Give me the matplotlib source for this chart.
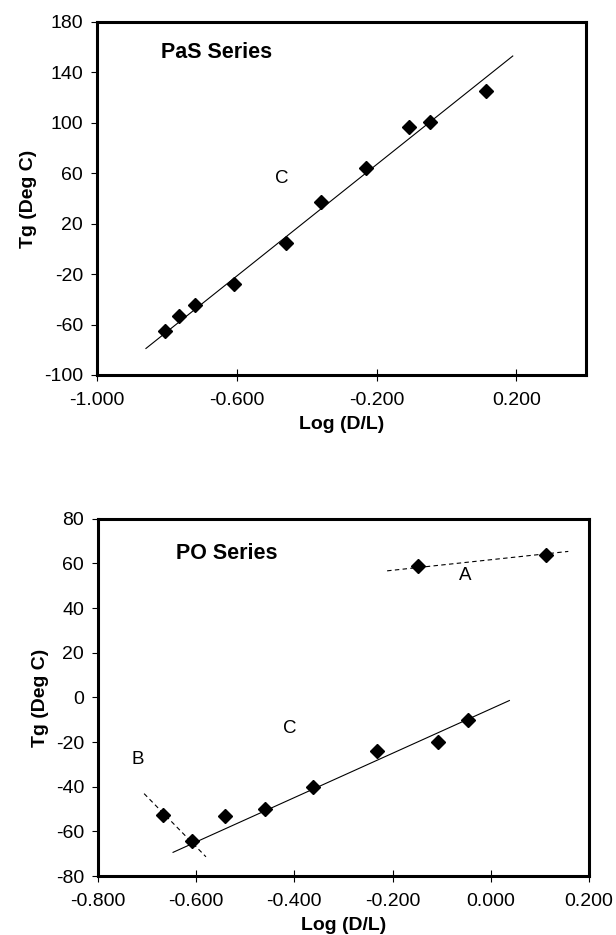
import matplotlib
matplotlib.use('Agg')
import matplotlib.pyplot as plt

plt.rcParams['font.family'] = ['Liberation Sans', 'DejaVu Sans']

# PaS series (top)
pas_x = [-0.806, -0.764, -0.720, -0.608, -0.459, -0.360, -0.231, -0.106, -0.046, 0.113]
pas_y = [-65.5, -53, -44.5, -27.5, 5, 37.5, 64.5, 97, 101, 125.5]
pas_fit_x = [-0.86, 0.19]
pas_fit_y = [-79, 153]

# PO series (bottom)
po_x = [-0.668, -0.609, -0.542, -0.459, -0.362, -0.232, -0.108, -0.046, -0.148, 0.112]
po_y = [-52.8, -64.5, -53, -50, -40, -24, -20, -10, 59, 64]
po_fit_c_x = [-0.647, 0.038]
po_fit_c_y = [-69.4, -1.4]
po_fit_a_x = [-0.211, 0.158]
po_fit_a_y = [56.7, 65.4]
po_fit_b_x = [-0.706, -0.580]
po_fit_b_y = [-43.1, -71.4]

pas_xticks = [-1.0, -0.6, -0.2, 0.2]
pas_yticks = [180, 140, 100, 60, 20, -20, -60, -100]
po_xticks = [-0.8, -0.6, -0.4, -0.2, 0.0, 0.2]
po_yticks = [80, 60, 40, 20, 0, -20, -40, -60, -80]

fig = plt.figure(figsize=(6.16, 9.35), dpi=100)
ax1 = fig.add_axes([0.1575, 0.599, 0.794, 0.3775])
ax2 = fig.add_axes([0.159, 0.0631, 0.797, 0.382])


def estilo(ax, xticks, yticks):
    ax.set_xticks(xticks)
    ax.set_yticks(yticks)
    ax.set_xticklabels(['{:.3f}'.format(t) for t in xticks])
    ax.set_yticklabels([str(t) for t in yticks])
    ax.tick_params(axis='x', direction='inout', length=8, width=0.8, pad=8, labelsize=14)
    ax.tick_params(axis='y', direction='out', length=4, width=0.8, pad=6, labelsize=14)
    for s in ax.spines.values():
        s.set_linewidth(2.2)
    ax.set_xlabel('Log (D/L)', fontsize=14, fontweight='bold', labelpad=5)
    ax.set_ylabel('Tg (Deg C)', fontsize=14, fontweight='bold', labelpad=5)


# Grafico PaS
ax1.plot(pas_fit_x, pas_fit_y, color='black', linewidth=0.8)
ax1.plot(pas_x, pas_y, linestyle='none', marker='D', markersize=7, color='black')
ax1.set_xlim(-1.0, 0.4)
ax1.set_ylim(-100, 180)
estilo(ax1, pas_xticks, pas_yticks)
ax1.text(-0.817, 156, 'PaS Series', fontsize=15.5, fontweight='bold', ha='left', va='center')
ax1.text(-0.471, 55.5, 'C', fontsize=13.5, ha='center', va='center')

# Grafico PO
ax2.plot(po_fit_c_x, po_fit_c_y, color='black', linewidth=0.8)
ax2.plot(po_fit_a_x, po_fit_a_y, color='black', linewidth=0.8, linestyle=(0, (4, 3)))
ax2.plot(po_fit_b_x, po_fit_b_y, color='black', linewidth=0.8, linestyle=(0, (4, 3)))
ax2.plot(po_x, po_y, linestyle='none', marker='D', markersize=7, color='black')
ax2.set_xlim(-0.8, 0.2)
ax2.set_ylim(-80, 80)
estilo(ax2, po_xticks, po_yticks)
ax2.text(-0.641, 64.3, 'PO Series', fontsize=15.5, fontweight='bold', ha='left', va='center')
ax2.text(-0.051, 54.5, 'A', fontsize=13.5, ha='center', va='center')
ax2.text(-0.409, -13.8, 'C', fontsize=13.5, ha='center', va='center')
ax2.text(-0.718, -28, 'B', fontsize=13.5, ha='center', va='center')

plt.savefig('out.png', dpi=100)
plt.close()
